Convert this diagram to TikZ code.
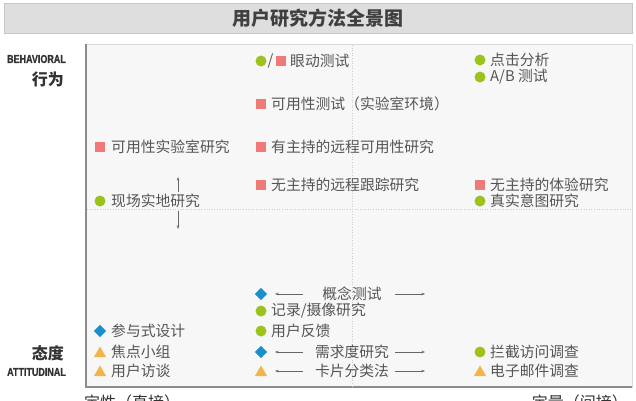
\documentclass[tikz,border=0pt]{standalone}
\usepackage{fontspec}
\setmainfont{Noto Sans CJK SC}
\newfontfamily\latinbold{Liberation Sans Bold}[FakeBold=1.2]
\usetikzlibrary{shapes.geometric,arrows.meta}
\definecolor{txtgray}{HTML}{555555}
\definecolor{dotgreen}{HTML}{9BC31C}
\definecolor{sqred}{HTML}{F07A78}
\definecolor{diablue}{HTML}{1A8FC9}
\definecolor{triorange}{HTML}{F3B44A}
\definecolor{framefill}{HTML}{F7F7F7}
\definecolor{barfill}{HTML}{DEDEDE}
\tikzset{
  lbl/.style={anchor=west, inner sep=0pt, text=txtgray, font=\fontsize{14.8}{15}\selectfont},
  clbl/.style={inner sep=0pt, text=txtgray, font=\fontsize{14.8}{15}\selectfont},
  gdot/.style={circle, fill=dotgreen, minimum size=11pt, inner sep=0pt},
  rsq/.style={rectangle, fill=sqred, minimum size=10pt, inner sep=0pt},
  bdia/.style={diamond, fill=diablue, minimum size=12.5pt, inner sep=0pt},
  otri/.style={regular polygon, regular polygon sides=3, fill=triorange, minimum size=14pt, inner sep=0pt},
  axisbig/.style={inner sep=0pt, anchor=east, text=black!80, font=\fontsize{16}{16}\selectfont\bfseries},
  axissmall/.style={inner sep=0pt, anchor=east, text=black!80, font=\latinbold\fontsize{11.5}{12}\selectfont},
  arr/.style={draw=black!60, line width=0.5pt, -{Stealth[length=3.5pt,width=2.5pt]}},
  grid/.style={draw=black!20, line width=0.6pt, dotted}
}
\begin{document}
\begin{tikzpicture}[x=1pt,y=-1pt]
\useasboundingbox (0,0) rectangle (636,400);
% title bar
\draw[fill=barfill, draw=black!22] (4,3) rectangle (632,33);
\node[inner sep=0pt, text=black!75, font=\fontsize{19}{19}\selectfont\bfseries] (title) at (318,18) {用户研究方法全景图};
% frame
\draw[fill=framefill, draw=black!15] (86,44) rectangle (632,387);
\draw[draw=black!45, line width=1.4pt] (86,44) -- (86,387) -- (632,387);
\draw[grid] (352,45) -- (352,386);
\draw[grid] (87,209) -- (631,209);
% axis labels
\node[axissmall] (beh) at (66,59) {\scalebox{0.78}[1]{BEHAVIORAL}};
\node[axisbig] (xw) at (64,79) {行为};
\node[axisbig] (td) at (64,353) {态度};
\node[axissmall] (att) at (66,372) {\scalebox{0.78}[1]{ATTITUDINAL}};
\node[inner sep=0pt, anchor=west, text=black!80, font=\fontsize{16}{16}\selectfont] (qual) at (84,402) {定性（直接）};
\node[inner sep=0pt, anchor=east, text=black!80, font=\fontsize{16}{16}\selectfont] (quan) at (628,402) {定量（间接）};
% ---- behavioral items
\node[gdot] (m1a) at (261,61) {};
\node[clbl] (m1s) at (270.5,61) {/};
\node[rsq] (m1b) at (281,61) {};
\node[lbl] (t1) at (290,61) {眼动测试};
\node[gdot] (m2) at (480,60) {};
\node[lbl] (t2) at (490,60) {点击分析};
\node[gdot] (m3) at (480,77) {};
\node[lbl] (t3) at (490,77) {A/B 测试};
\node[rsq] (m4) at (261,104) {};
\node[lbl] (t4) at (271,104) {可用性测试（实验室环境）};
\node[rsq] (m5) at (100,147) {};
\node[lbl] (t5) at (111,147) {可用性实验室研究};
\node[rsq] (m6) at (261,147) {};
\node[lbl] (t6) at (271,147) {有主持的远程可用性研究};
\node[rsq] (m7) at (261,185) {};
\node[lbl] (t7) at (271,185) {无主持的远程跟踪研究};
\node[rsq] (m8) at (480,185) {};
\node[lbl] (t8) at (490,185) {无主持的体验研究};
\node[gdot] (m9) at (480,201) {};
\node[lbl] (t9) at (490,201) {真实意图研究};
\node[gdot] (m10) at (100,201) {};
\node[lbl] (t10) at (111,201) {现场实地研究};
\coordinate (up0) at (178,192);
\coordinate (up1) at (178,177);
\coordinate (dn0) at (178,211);
\coordinate (dn1) at (178,229);
\draw[arr] (up0) -- (up1);
\draw[arr] (dn0) -- (dn1);
% ---- attitudinal items
\node[bdia] (m11) at (261,294) {};
\node[clbl] (t11) at (352,294) {概念测试};
\node[gdot] (m12) at (261,311) {};
\node[lbl] (t12) at (271,311) {记录/摄像研究};
\node[gdot] (m13) at (261,331) {};
\node[lbl] (t13) at (271,331) {用户反馈};
\node[bdia] (m14) at (261,352) {};
\node[clbl] (t14) at (352,352) {需求度研究};
\node[otri] (m15) at (261,372.5) {};
\node[clbl] (t15) at (352,371) {卡片分类法};
\foreach \r/\y in {a/294,b/352,c/371}{
  \coordinate (l0\r) at (303,\y);
  \coordinate (l1\r) at (275,\y);
  \coordinate (r0\r) at (395,\y);
  \coordinate (r1\r) at (425,\y);
  \draw[arr] (l0\r) -- (l1\r);
  \draw[arr] (r0\r) -- (r1\r);
}
\node[bdia] (m16) at (100,331) {};
\node[lbl] (t16) at (111,331) {参与式设计};
\node[otri] (m17) at (100,353.5) {};
\node[lbl] (t17) at (111,352) {焦点小组};
\node[otri] (m18) at (100,372.5) {};
\node[lbl] (t18) at (111,371) {用户访谈};
\node[gdot] (m19) at (480,352) {};
\node[lbl] (t19) at (490,352) {拦截访问调查};
\node[otri] (m20) at (480,372.5) {};
\node[lbl] (t20) at (490,371) {电子邮件调查};
\end{tikzpicture}
\end{document}
